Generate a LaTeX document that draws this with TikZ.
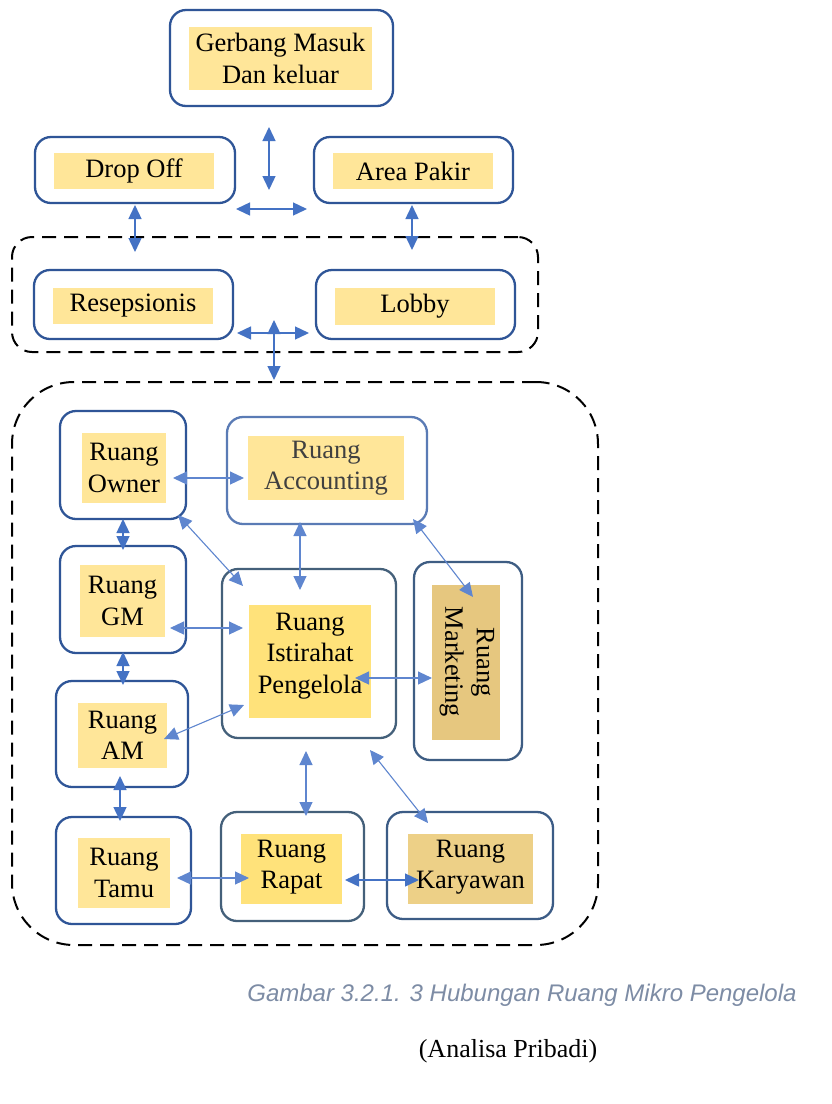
\documentclass[tikz,border=0pt]{standalone}
\usepackage{fontspec}
\setmainfont{Liberation Serif}
\newfontfamily\capfont{Liberation Sans}
\usetikzlibrary{arrows.meta}
\definecolor{boxblue}{HTML}{2F5597}
\definecolor{boxlite}{HTML}{5A7BB5}
\definecolor{boxslate}{HTML}{44607A}
\definecolor{arrblue}{HTML}{4472C4}
\definecolor{arrlite}{HTML}{5F86CF}
\definecolor{hly}{HTML}{FFE699}
\definecolor{hlgold}{HTML}{FFE27A}
\definecolor{hltan}{HTML}{E6C77F}
\definecolor{capcol}{RGB}{125,140,165}
\begin{document}
\begin{tikzpicture}[x=1pt,y=-1pt,
 box/.style={draw=boxblue,line width=2.3pt,rounded corners=16pt,inner sep=0pt},
 hl/.style={fill=hly,inner sep=0pt,align=center,font=\fontsize{26.5}{31.5}\selectfont},
 txt/.style={inner sep=0pt,align=center,font=\fontsize{26.5}{31.5}\selectfont},
 biarrow/.style={draw=arrblue,line width=1.4pt,{Triangle[length=14pt,width=13pt]}-{Triangle[length=14pt,width=13pt]}},
 biarrowin/.style={draw=arrlite,line width=1.1pt,{Triangle[length=14pt,width=13pt]}-{Triangle[length=14pt,width=13pt]}},
 grp/.style={draw=black,line width=2pt,dash pattern=on 14pt off 8pt,inner sep=0pt}]
\useasboundingbox[fill=white] (0,0) rectangle (832,1104);

% groups
\node[grp,rounded corners=20pt,minimum width=526pt,minimum height=115pt] (grpA) at (275,294.5) {};
\node[grp,rounded corners=62pt,minimum width=586pt,minimum height=563pt] (grpB) at (305,663.5) {};

% top boxes
\node[box,minimum width=223pt,minimum height=96pt] (gate) at (281.5,58) {};
\node[hl,minimum width=183pt,minimum height=63pt] (gatet) at (280.5,58.5) {Gerbang Masuk\\Dan keluar};
\node[box,minimum width=200pt,minimum height=66pt] (drop) at (135,170) {};
\node[hl,minimum width=160pt,minimum height=36pt] (dropt) at (134,171) {Drop Off};
\node[box,minimum width=199pt,minimum height=66pt] (park) at (413.5,170) {};
\node[hl,minimum width=160pt,minimum height=36pt] (parkt) at (413,171) {Area Pakir};
\node[box,minimum width=199pt,minimum height=69pt] (resep) at (133.5,304.5) {};
\node[hl,minimum width=160pt,minimum height=36pt] (resept) at (133,306) {Resepsionis};
\node[box,minimum width=199pt,minimum height=69pt] (lobby) at (415.5,304.5) {};
\node[hl,minimum width=160pt,minimum height=37pt] (lobbyt) at (415,306.5) {Lobby};

% inner boxes
\node[box,minimum width=126pt,minimum height=108pt] (owner) at (123,465) {};
\node[hl,minimum width=84pt,minimum height=70pt] (ownert) at (124,468) {Ruang\\Owner};
\node[box,draw=boxlite,minimum width=200pt,minimum height=107pt] (acc) at (327,470.5) {};
\node[hl,minimum width=156pt,minimum height=64pt,text=black!75] (acct) at (326,468) {Ruang\\Accounting};
\node[box,minimum width=126pt,minimum height=107pt] (gm) at (123,599.5) {};
\node[hl,minimum width=85pt,minimum height=72pt] (gmt) at (122.5,601) {Ruang\\GM};
\node[box,minimum width=132pt,minimum height=106pt] (am) at (122,734) {};
\node[hl,minimum width=89pt,minimum height=65pt] (amt) at (122.5,735.5) {Ruang\\AM};
\node[box,minimum width=135pt,minimum height=107pt] (tamu) at (123.5,870.5) {};
\node[hl,minimum width=92pt,minimum height=70pt] (tamut) at (124,873) {Ruang\\Tamu};
\node[box,draw=boxslate,minimum width=174pt,minimum height=169pt] (rest) at (309,653.5) {};
\node[hl,fill=hlgold,minimum width=122pt,minimum height=113pt] (restt) at (310,661.5) {};
\node[txt] (restl) at (310,656) {Ruang\\Istirahat\\Pengelola};
\node[box,draw=boxslate!70!boxblue,minimum width=108pt,minimum height=198pt] (mkt) at (468,661) {};
\node[hl,fill=hltan,minimum width=68pt,minimum height=155pt] (mktt) at (466,662.5) {};
\node[txt,rotate=-90] (mktl) at (467,662) {Ruang\\Marketing};
\node[box,draw=boxslate,minimum width=143pt,minimum height=109pt] (rapat) at (292.5,866.5) {};
\node[hl,fill=hlgold,minimum width=101pt,minimum height=70pt] (rapatt) at (291.5,869) {};
\node[txt] (rapatl) at (291.5,867) {Ruang\\Rapat};
\node[box,draw=boxslate!60!boxblue,minimum width=166pt,minimum height=107pt] (kary) at (470,865.5) {};
\node[hl,fill=hltan!70!hly,minimum width=125pt,minimum height=70pt] (karyt) at (470.5,869) {};
\node[txt] (karyl) at (470.5,867) {Ruang\\Karyawan};

% arrow end points
\coordinate (a1) at (269,127); \coordinate (a2) at (269,190);
\coordinate (b1) at (236,209); \coordinate (b2) at (307,209);
\coordinate (c1) at (135,205); \coordinate (c2) at (135,252);
\coordinate (d1) at (412,205); \coordinate (d2) at (412,250);
\coordinate (e1) at (237,333); \coordinate (e2) at (309,333);
\coordinate (f1) at (274,320); \coordinate (f2) at (274,380);
\draw[biarrow] (a1) -- (a2);
\draw[biarrow] (b1) -- (b2);
\draw[biarrow] (c1) -- (c2);
\draw[biarrow] (d1) -- (d2);
\draw[biarrow] (e1) -- (e2);
\draw[biarrow] (f1) -- (f2);

\coordinate (g1) at (173,478); \coordinate (g2) at (244,478);
\coordinate (h1) at (123,519); \coordinate (h2) at (123,550);
\coordinate (i1) at (178,515); \coordinate (i2) at (243,586);
\coordinate (j1) at (300,522); \coordinate (j2) at (300,590);
\coordinate (k1) at (413,519); \coordinate (k2) at (473,597);
\coordinate (l1) at (170,628); \coordinate (l2) at (243,628);
\coordinate (m1) at (123,652); \coordinate (m2) at (123,685);
\coordinate (n1) at (164,739); \coordinate (n2) at (244,705);
\coordinate (o1) at (355,678); \coordinate (o2) at (432,678);
\coordinate (p1) at (120,776); \coordinate (p2) at (120,821);
\coordinate (q1) at (306,751); \coordinate (q2) at (306,816);
\coordinate (r1) at (370,750); \coordinate (r2) at (428,823);
\coordinate (s1) at (177,878); \coordinate (s2) at (249,878);
\coordinate (t1) at (345,880); \coordinate (t2) at (419,880);
\draw[biarrowin] (g1) -- (g2);
\draw[biarrow] (h1) -- (h2);
\draw[biarrowin] (i1) -- (i2);
\draw[biarrowin] (j1) -- (j2);
\draw[biarrowin] (k1) -- (k2);
\draw[biarrowin] (l1) -- (l2);
\draw[biarrow] (m1) -- (m2);
\draw[biarrowin] (n1) -- (n2);
\draw[biarrowin] (o1) -- (o2);
\draw[biarrow] (p1) -- (p2);
\draw[biarrowin] (q1) -- (q2);
\draw[biarrowin] (r1) -- (r2);
\draw[biarrowin] (s1) -- (s2);
\draw[biarrow] (t1) -- (t2);

% captions
\node[inner sep=0pt,text=capcol,font=\capfont\itshape\fontsize{24}{28}\selectfont] (cap) at (522,995) {Gambar 3.2.1. 3 Hubungan Ruang Mikro Pengelola};
\node[inner sep=0pt,font=\fontsize{26}{30}\selectfont] (src) at (508,1051) {(Analisa Pribadi)};
\end{tikzpicture}
\end{document}
